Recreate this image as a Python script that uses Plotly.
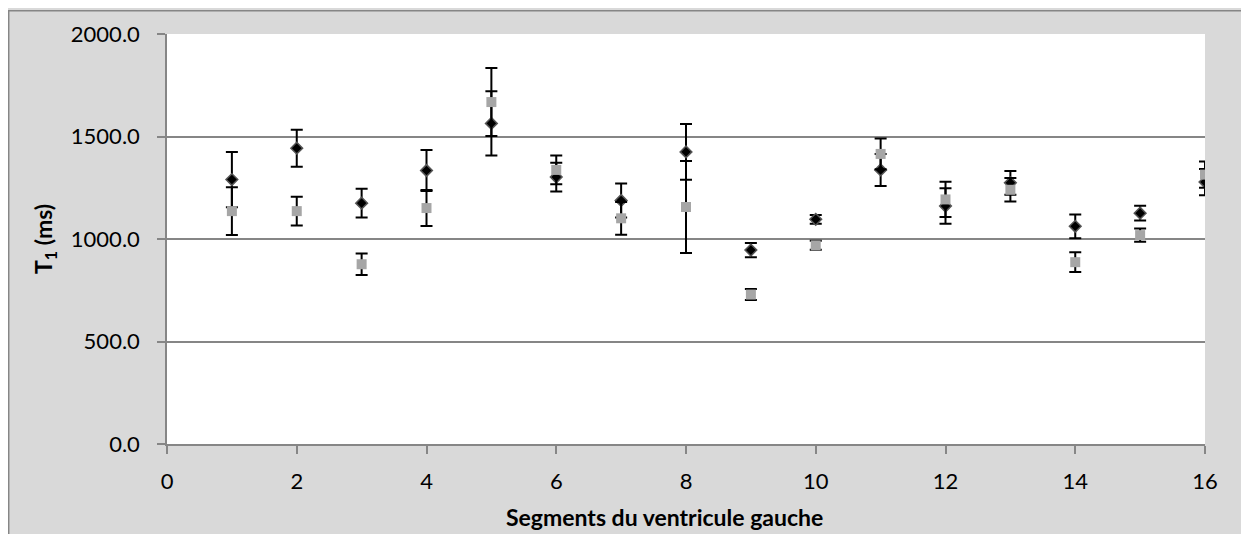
import plotly.graph_objects as go

# segments 1..16 of the left ventricle
segments = list(range(1, 17))

# series 1: black diamonds
t1_a = [1290, 1443, 1175, 1334, 1564, 1302, 1188, 1425, 946, 1096, 1337, 1161, 1274, 1062, 1126, 1278]
err_a = [135, 90, 70, 100, 157, 70, 83, 136, 35, 21, 78, 87, 58, 58, 36, 64]

# series 2: grey squares
t1_b = [1136, 1136, 877, 1151, 1668, 1337, 1101, 1156, 729, 969, 1415, 1193, 1240, 887, 1019, 1314]
err_b = [117, 70, 52, 88, 166, 70, 80, 224, 27, 22, 75, 86, 57, 48, 32, 64]

x_ticks = list(range(0, 17, 2))
y_ticks = [0, 500, 1000, 1500, 2000]

FONT = "Lato"
GRID = "#868686"

fig = go.Figure()

fig.add_trace(go.Scatter(
    x=segments, y=t1_a,
    mode="markers",
    marker=dict(symbol="diamond", size=9, color="black",
                line=dict(color="#555555", width=1.5)),
    error_y=dict(type="data", array=err_a, visible=True,
                 color="black", thickness=2, width=6),
    showlegend=False,
))

fig.add_trace(go.Scatter(
    x=segments, y=t1_b,
    mode="markers",
    marker=dict(symbol="square", size=10, color="#A6A6A6",
                line=dict(color="#A6A6A6", width=0)),
    error_y=dict(type="data", array=err_b, visible=True,
                 color="black", thickness=2, width=6),
    showlegend=False,
))

fig.update_xaxes(
    range=[0, 16],
    tickvals=x_ticks,
    showgrid=False,
    zeroline=False,
    showline=True, linecolor=GRID, linewidth=1.5,
    ticks="outside", ticklen=8, tickcolor=GRID, tickwidth=1.5,
    ticklabelstandoff=9,
    tickfont=dict(family=FONT, size=22, color="black"),
)

fig.update_yaxes(
    range=[0, 2000],
    tickvals=y_ticks,
    tickformat=".1f",
    showgrid=True, gridcolor=GRID, gridwidth=1.5,
    zeroline=False,
    showline=True, linecolor=GRID, linewidth=1.5,
    ticks="outside", ticklen=8, tickcolor=GRID, tickwidth=1.5,
    ticklabelstandoff=13,
    tickfont=dict(family=FONT, size=22, color="black"),
    title=dict(text="<b>T<sub>1</sub> (ms)</b>", standoff=12,
               font=dict(family=FONT, size=23, color="black")),
)

# thin border on the chart area's left and top edges
fig.add_shape(type="rect", xref="paper", yref="paper",
              x0=-0.1525, x1=1.2, y0=-0.4, y1=1.0565,
              line=dict(color=GRID, width=1.5), layer="below")

fig.add_annotation(
    text="<b>Segments du ventricule gauche</b>",
    xref="paper", yref="paper", x=0.479, y=-0.179,
    xanchor="center", yanchor="middle", showarrow=False,
    font=dict(family=FONT, size=23, color="black"),
)

fig.update_layout(
    width=1241, height=526,
    margin=dict(l=159, r=44, t=24, b=90),
    paper_bgcolor="#D9D9D9",
    plot_bgcolor="white",
)

fig.write_html("out.html")
